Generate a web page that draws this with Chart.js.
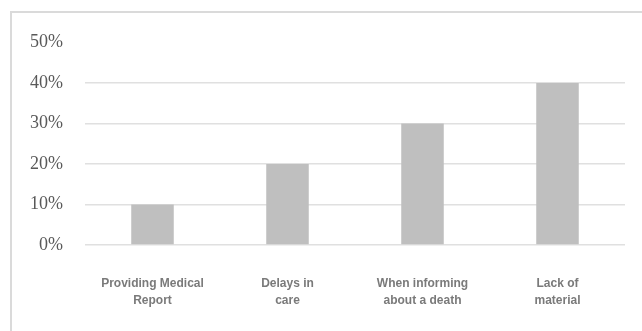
<!DOCTYPE html>
<html lang="en">
<head>
    <meta charset="UTF-8">
    <title>Difficulties</title>
    <script src="https://cdn.jsdelivr.net/npm/chart.js"></script>
    <style>
        body { margin: 0; background: #fff; }
        #frame {
            position: absolute;
            left: 10px;
            top: 11px;
            width: 640px;
            height: 330px;
            border-top: 2px solid #dadada;
            border-left: 2px solid #dadada;
        }
        #chart { position: absolute; left: 0; top: 0; }
    </style>
</head>
<body>
    <div id="frame"></div>
    <canvas id="chart" width="642" height="331"></canvas>
    <script>
        const categories = [
            ['Providing Medical', 'Report'],
            ['Delays in', 'care'],
            ['When informing', 'about a death'],
            ['Lack of', 'material']
        ];
        const shares = [0.10, 0.20, 0.30, 0.40];
        const yTicks = [0, 0.1, 0.2, 0.3, 0.4, 0.5];

        const ctx = document.getElementById('chart').getContext('2d');
        new Chart(ctx, {
            type: 'bar',
            data: {
                labels: categories,
                datasets: [{
                    data: shares,
                    backgroundColor: '#bfbfbf',
                    borderWidth: 0,
                    categoryPercentage: 1,
                    barPercentage: 0.315
                }]
            },
            options: {
                responsive: false,
                animation: false,
                layout: { padding: { left: 0, right: 17, top: 42.5, bottom: 0 } },
                plugins: { legend: { display: false }, tooltip: { enabled: false } },
                scales: {
                    x: {
                        afterFit: function(scale) { scale.height = 86; },
                        grid: { display: false, drawTicks: false },
                        border: { display: false },
                        ticks: {
                            padding: 31,
                            color: '#7a7a7a',
                            font: { family: "'Liberation Sans Narrow', 'Arial Narrow', 'Liberation Sans', sans-serif", weight: 'bold', size: 12, lineHeight: 1.35 }
                        }
                    },
                    y: {
                        min: 0,
                        max: 0.5,
                        afterFit: function(scale) { scale.width = 85; },
                        afterBuildTicks: function(scale) {
                            scale.ticks = yTicks.map(v => ({ value: v }));
                        },
                        grid: {
                            drawTicks: false,
                            lineWidth: 1.5,
                            color: function(c) {
                                return c.tick && c.tick.value === 0.5 ? 'rgba(0,0,0,0)' : '#e0e0e0';
                            }
                        },
                        border: { display: false },
                        ticks: {
                            padding: 22,
                            color: '#595959',
                            font: { family: "'Liberation Serif', serif", size: 18 },
                            callback: function(value) { return Math.round(value * 100) + '%'; }
                        }
                    }
                }
            }
        });
    </script>
</body>
</html>
